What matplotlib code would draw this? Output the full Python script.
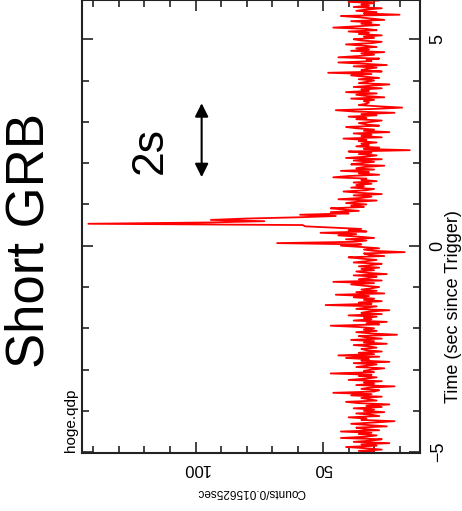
import numpy as np
import matplotlib.pyplot as plt
from matplotlib.ticker import MultipleLocator

plt.rcParams['font.family'] = ['Liberation Sans', 'DejaVu Sans']

# light curve, bin start -5 s, one value per 0.03125 s (16 values per row = 0.5 s)
t_start = -5.0
bin_width = 0.03125
counts = [
    30, 36, 27, 33, 41, 29, 35, 24, 38, 31, 27, 43, 33, 29, 36, 31,
    43, 28, 34, 37, 25, 32, 39, 30, 22, 35, 33, 40, 28, 31, 37, 26,
    34, 30, 38, 27, 33, 24, 36, 41, 29, 32, 35, 27, 39, 31, 46, 30,
    28, 35, 32, 22, 37, 30, 34, 27, 40, 33, 29, 36, 31, 47, 30, 34,
    31, 26, 37, 33, 29, 38, 24, 35, 32, 41, 28, 44, 30, 36, 27, 33,
    35, 29, 32, 38, 25, 34, 30, 39, 27, 33, 36, 21, 31, 37, 29, 34,
    30, 36, 47, 28, 33, 25, 38, 31, 34, 29, 40, 27, 35, 32, 24, 37,
    33, 29, 49, 31, 36, 27, 34, 30, 38, 32, 45, 26, 37, 29, 35, 31,
    28, 34, 39, 30, 46, 27, 36, 32, 29, 38, 25, 33, 37, 30, 35, 28,
    36, 31, 27, 38, 33, 29, 35, 40, 26, 32, 34, 18, 30, 34, 28, 35,
    43, 35, 68, 38, 33, 41, 30, 36, 44, 37, 51, 33, 40, 35, 46, 57,
    58, 142, 95, 73, 94, 81, 60, 45, 59, 40, 47, 36, 42, 47, 34, 39,
    33, 41, 37, 29, 44, 35, 31, 38, 27, 36, 42, 33, 30, 39, 34, 37,
    31, 38, 29, 35, 33, 46, 40, 28, 36, 32, 43, 30, 37, 34, 26, 39,
    35, 30, 38, 27, 41, 33, 29, 36, 31, 40, 16, 34, 28, 37, 32, 35,
    29, 36, 33, 42, 27, 35, 31, 38, 24, 34, 30, 37, 41, 28, 33, 36,
    31, 27, 37, 33, 40, 29, 35, 22, 38, 45, 30, 19, 28, 36, 33, 32,
    34, 30, 39, 26, 33, 37, 29, 41, 32, 35, 27, 38, 31, 24, 36, 33,
    30, 36, 28, 34, 39, 31, 48, 27, 35, 33, 29, 38, 25, 34, 44, 31,
    33, 28, 44, 36, 30, 35, 26, 39, 32, 37, 29, 34, 41, 31, 27, 35,
    38, 30, 34, 27, 36, 32, 40, 29, 33, 46, 37, 28, 35, 31, 39, 26,
    31, 36, 43, 20, 34, 29, 37, 33, 27, 38, 32, 35, 30, 40, 28, 34,
]
times = t_start + bin_width * np.arange(len(counts))

fig = plt.figure(figsize=(4.62, 5.11), dpi=100)
ax = fig.add_axes([82 / 462, 58 / 511, 338 / 462, 453 / 511])

# the qdp plot is shown turned on its side: time runs up, counts run left
ax.plot(counts, times, color='#ff0000', lw=1.3)

ax.set_xlim(144.5, 12)
ax.set_ylim(-5.02, 5.95)

ax.xaxis.set_major_locator(MultipleLocator(50))
ax.xaxis.set_minor_locator(MultipleLocator(10))
ax.yaxis.set_major_locator(MultipleLocator(5))
ax.yaxis.set_minor_locator(MultipleLocator(1))

ax.tick_params(which='both', direction='in', top=True, bottom=True, left=True, right=True,
               width=1.2, color='#222222')
ax.tick_params(which='major', length=8)
ax.tick_params(which='minor', length=5)
ax.tick_params(axis='y', labelleft=False, labelright=True, labelrotation=90,
               labelsize=13, pad=7)
ax.tick_params(axis='x', labelrotation=180, labelsize=12, pad=6)
for lab in ax.get_yticklabels():
    lab.set_va('center')

for s in ax.spines.values():
    s.set_linewidth(1.5)
    s.set_color('#222222')

ax.set_xlabel('Counts/0.015625sec', rotation=180, fontsize=8.5, labelpad=7)
fig.text(454 / 462, 1 - 307 / 511, 'Time (sec since Trigger)', rotation=90,
         fontsize=13, ha='center', va='center')

# 2 s scale arrow
ax.annotate('', xy=(97.6, 3.45), xytext=(97.6, 1.66),
            arrowprops=dict(arrowstyle='<|-|>', color='black', lw=1.5,
                            mutation_scale=20, shrinkA=0, shrinkB=0))

fig.text(150 / 462, 1 - 150 / 511, '2s', rotation=90, fontsize=32,
         ha='center', va='center')
fig.text(30 / 462, 1 - 240 / 511, 'Short GRB', rotation=90, fontsize=38,
         ha='center', va='center')
fig.text(71 / 462, 1 - 452 / 511, 'hoge.qdp', rotation=90, fontsize=11,
         ha='center', va='bottom')

plt.savefig('out.png', dpi=100)
